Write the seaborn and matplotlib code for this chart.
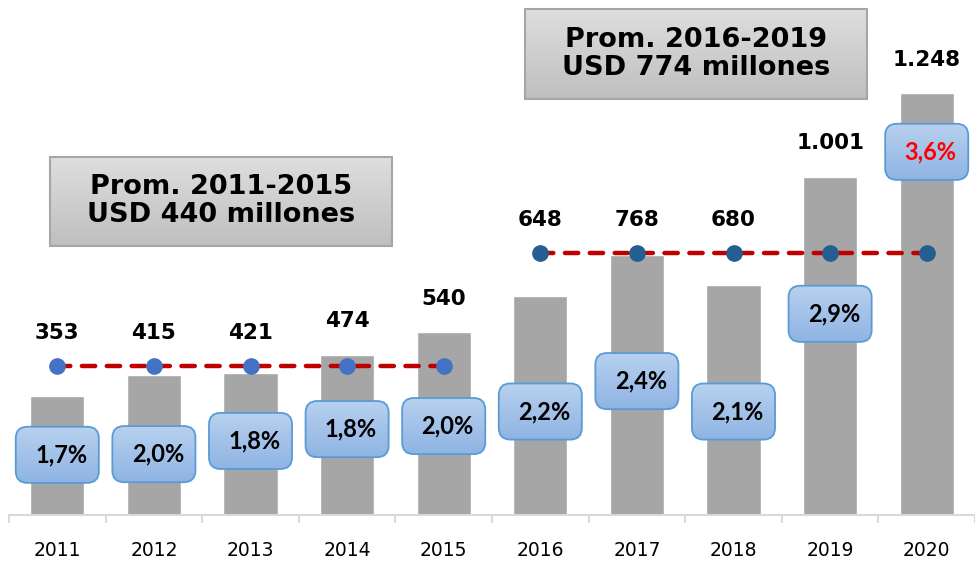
import numpy as np
import pandas as pd
import matplotlib
matplotlib.use("Agg")
import matplotlib.pyplot as plt
import seaborn as sns
from matplotlib.patches import FancyBboxPatch, Rectangle
from matplotlib.colors import LinearSegmentedColormap

# ---------------- data ----------------
years = ["2011", "2012", "2013", "2014", "2015", "2016", "2017", "2018", "2019", "2020"]
values = [353, 415, 421, 474, 540, 648, 768, 680, 1001, 1248]
shares = [1.7, 2.0, 1.8, 1.8, 2.0, 2.2, 2.4, 2.1, 2.9, 3.6]
avg_titles = ["Prom. 2011-2015\nUSD 440 millones", "Prom. 2016-2019\nUSD 774 millones"]
avg_values = [440, 774]
avg_year_groups = [years[0:5], years[5:10]]
highlight_year = "2020"

# ---------------- layout (annotation placement) ----------------
share_box_y = [178, 180, 219, 254, 263, 306, 396, 306, 595, 1074]
header_boxes = [(-0.076, 796, 3.54, 263), (4.84, 1231, 3.54, 266)]  # x0, y0, w, h

sns.set_theme(style="white")
plt.rcParams["font.family"] = ["DejaVu Sans"]

fig = plt.figure(figsize=(9.75, 5.62), dpi=100)
ax = fig.add_axes([9 / 975, 47 / 562, 966 / 975, 515 / 562])

df = pd.DataFrame({"year": years, "value": values})
sns.barplot(data=df, x="year", y="value", color="#a6a6a6", width=0.56,
            saturation=1, ax=ax, zorder=1)

XMIN, XMAX, YMIN, YMAX = -0.5, 9.5, 0, 1523
ax.set_xlim(XMIN, XMAX)
ax.set_ylim(YMIN, YMAX)

# average lines with dots
dot_colors = ["#4472c4", "#255e91"]
for avg, grp, dc in zip(avg_values, avg_year_groups, dot_colors):
    xs = [years.index(y) for y in grp]
    ys = [avg] * len(xs)
    ax.plot(xs, ys, color="#c00000", lw=3.2, dashes=(3.0, 2.6),
            dash_capstyle="round", zorder=3)
    ax.plot(xs, ys, "o", ms=11, color=dc, mec=dc, zorder=4)

# value labels
for i, v in enumerate(values):
    grp_idx = 0 if i < 5 else 1
    anchor = max(v, avg_values[grp_idx])
    ax.annotate(f"{v:,}".replace(",", "."), (i, anchor), xytext=(0, 24),
                textcoords="offset points", ha="center", va="center",
                fontsize=15.5, fontweight="bold", color="#000000", zorder=6)

# share boxes with blue gradient
blue = LinearSegmentedColormap.from_list("b", ["#8fb4e3", "#b8d1ef"])
grad = np.linspace(0, 1, 100).reshape(-1, 1)
bw, bh = 0.86, 166
aspect = (1 / 0.338) / (1 / 96.6)
for i, (s, yc) in enumerate(zip(shares, share_box_y)):
    x0, y0 = i - bw / 2, yc - bh / 2
    patch = FancyBboxPatch((x0, y0), bw, bh,
                           boxstyle="round,pad=0,rounding_size=0.12",
                           mutation_aspect=aspect, fc="none",
                           ec="#5b9bd5", lw=1.3, zorder=6)
    ax.add_patch(patch)
    im = ax.imshow(grad, extent=[x0, x0 + bw, y0, y0 + bh], origin="lower",
                   aspect="auto", cmap=blue, zorder=5)
    im.set_clip_path(patch)
    col = "#ff0000" if years[i] == highlight_year else "#000000"
    ax.text(i + 0.04, yc, f"{s:.1f}%".replace(".", ","), ha="center",
            va="center", fontsize=17, fontweight="bold", color=col,
            family=["Lato", "DejaVu Sans"], zorder=7)

# header boxes with gray gradient
gray = LinearSegmentedColormap.from_list("g", ["#bfbfbf", "#dedede"])
for title, (x0, y0, w, h) in zip(avg_titles, header_boxes):
    rect = Rectangle((x0, y0), w, h, fc="none", ec="#a6a6a6", lw=1.5, zorder=6)
    ax.add_patch(rect)
    im = ax.imshow(grad, extent=[x0, x0 + w, y0, y0 + h], origin="lower",
                   aspect="auto", cmap=gray, zorder=5)
    im.set_clip_path(rect)
    ax.text(x0 + w / 2, y0 + h / 2, title, ha="center", va="center",
            fontsize=19.5, fontweight="bold", color="#000000",
            linespacing=1.1, zorder=7)

ax.set_xlim(XMIN, XMAX)
ax.set_ylim(YMIN, YMAX)

# axes styling
for side in ["left", "top", "right"]:
    ax.spines[side].set_visible(False)
ax.spines["bottom"].set_color("#d9d9d9")
ax.spines["bottom"].set_linewidth(1.5)
ax.set_yticks([])
ax.set_xlabel("")
ax.set_ylabel("")
ax.set_xticks(range(len(years)))
ax.set_xticklabels(years, fontsize=13.5, color="#000000")
ax.tick_params(axis="x", which="major", length=0, pad=19, bottom=True)
ax.set_xticks(np.arange(-0.5, len(years), 1.0), minor=True)
ax.tick_params(axis="x", which="minor", length=6, width=1.5, color="#d9d9d9",
               direction="out", bottom=True)
ax.grid(False)

fig.savefig("out.png", dpi=100)
